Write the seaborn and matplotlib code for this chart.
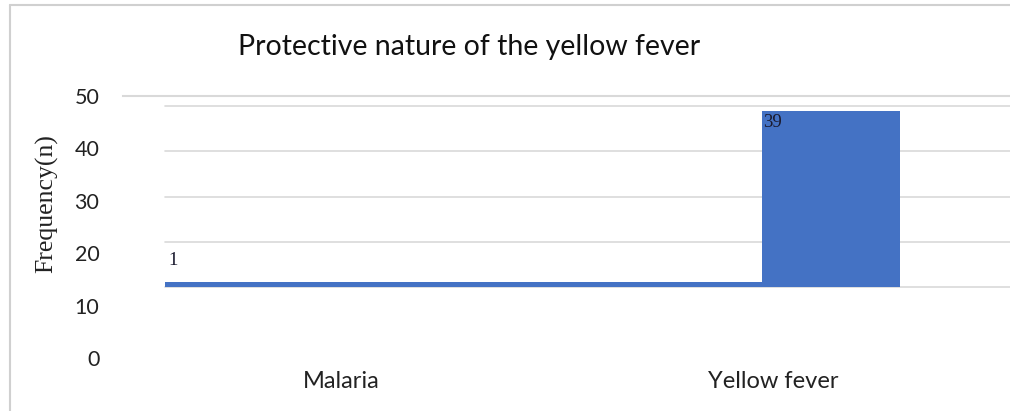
import matplotlib
matplotlib.use("Agg")
import matplotlib.pyplot as plt
import seaborn as sns
import pandas as pd
from matplotlib.lines import Line2D

# Data
categories = ["Malaria", "Yellow fever"]
frequencies = [1, 39]
grid_values = [0, 10, 20, 30, 40]
ytick_values = [0, 10, 20, 30, 40, 50]
ytick_labels = ["0", "10", "20", "30", "40", "50"]

W, H = 1010, 411
BAR_COLOR = "#4472C4"
GRID_COLOR = "#d9d9d9"

sns.set_style("white")
plt.rcParams["font.family"] = ["Lato", "DejaVu Sans"]
SERIF = ["Liberation Serif", "DejaVu Serif"]

fig = plt.figure(figsize=(W / 100, H / 100), dpi=100)

# plot area in pixels
ax_left, ax_right, ax_top, ax_bottom = 123, 1010, 96, 365
ax = fig.add_axes([ax_left / W, 1 - ax_bottom / H,
                   (ax_right - ax_left) / W, (ax_bottom - ax_top) / H])

df = pd.DataFrame({"disease": categories, "n": frequencies})
sns.barplot(data=df, x="disease", y="n", color=BAR_COLOR, saturation=1,
            ax=ax, zorder=2)

# value scale: baseline and pixels per unit
base_px, px_per_unit = 287, 4.525
ax.set_ylim((base_px - ax_bottom) / px_per_unit, (base_px - ax_top) / px_per_unit)

# category positions along x
cat0_px, cat1_px = 341, 773
px_per_cat = cat1_px - cat0_px
ax.set_xlim((ax_left - cat0_px) / px_per_cat, (ax_right - cat0_px) / px_per_cat)

# bar extents (pixels)
bar_spans = [(165, 762), (762, 900)]
for patch, (l, r) in zip(ax.patches, bar_spans):
    patch.set_x((l - cat0_px) / px_per_cat)
    patch.set_width((r - l) / px_per_cat)
    patch.set_edgecolor("none")

grid_start = (165 - ax_left) / (ax_right - ax_left)
for g in grid_values:
    ax.axhline(g, xmin=grid_start, xmax=1, color=GRID_COLOR, lw=1.2, zorder=0)

for side in ["left", "right", "bottom"]:
    ax.spines[side].set_visible(False)
ax.spines["top"].set_color(GRID_COLOR)
ax.spines["top"].set_linewidth(1.5)
ax.set_yticks([])
ax.set_xlabel("")
ax.set_ylabel("")
ax.tick_params(axis="x", length=0, pad=4, labelsize=17, labelcolor="#222222")

# value labels
label_offsets = [(3, 22), (1, -12)]
for patch, val, (dx, dy) in zip(ax.patches, frequencies, label_offsets):
    ax.annotate(str(val), xy=(patch.get_x(), val), xytext=(dx, dy),
                textcoords="offset pixels", ha="left", va="center",
                fontsize=13.5, family=SERIF, color="#1a1a2e", zorder=3)

# frequency axis labels
ax2 = ax.twinx()
ax2.yaxis.tick_left()
for side in ["left", "right", "bottom", "top"]:
    ax2.spines[side].set_visible(False)
lab0_px, lab50_px = 358, 96
lab_px_per_unit = (lab0_px - lab50_px) / 50
ax2.set_ylim((lab0_px - ax_bottom) / lab_px_per_unit, (lab0_px - ax_top) / lab_px_per_unit)
ax2.set_yticks(ytick_values)
ax2.set_yticklabels(ytick_labels)
ax2.tick_params(axis="y", length=0, pad=17, labelsize=15.5, labelcolor="#222222")

fig.text(469 / W, 1 - 47 / H, "Protective nature of the yellow fever",
         ha="center", va="center", fontsize=20.5, color="#111111")
fig.text(47 / W, 1 - 204 / H, "Frequency(n)", rotation=90, ha="center",
         va="center", fontsize=18.5, family=SERIF, color="#222222")

# outer frame
fig.add_artist(Line2D([10 / W, 10 / W], [0, 1 - 5 / H], transform=fig.transFigure,
                      color="#d0d0d0", lw=1.5))
fig.add_artist(Line2D([10 / W, 1], [1 - 5 / H, 1 - 5 / H], transform=fig.transFigure,
                      color="#d0d0d0", lw=1.5))

fig.savefig("out.png", dpi=100)
